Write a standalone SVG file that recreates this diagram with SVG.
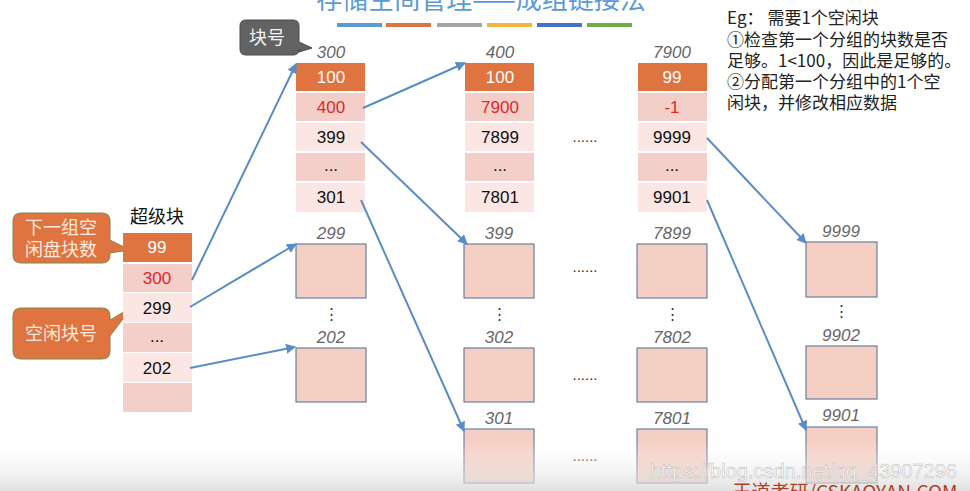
<svg xmlns="http://www.w3.org/2000/svg" width="970" height="491" viewBox="0 0 970 491">
<defs>
<style>
.t{font-family:"Liberation Sans","Noto Sans CJK SC",sans-serif;}
.cj{font-family:"Noto Sans CJK SC","Liberation Sans",sans-serif;}
.hd{fill:#e07440;}
.dk{fill:#f4cfca;}
.lt{fill:#fbe6e4;}
.bx{fill:#f6cfc4;stroke:#6b7f9e;stroke-width:1.2;}
.n{font-size:17px;text-anchor:middle;fill:#111;}
.w{fill:#fff;}
.r{fill:#e02828;}
.lb{font-size:17px;font-style:italic;text-anchor:middle;fill:#666;}
.dots{font-size:15px;text-anchor:middle;fill:#333;}
.c{stroke:#5a8dc8;stroke-width:2;fill:none;marker-end:url(#ah);}
</style>
<marker id="ah" viewBox="0 0 10 10" refX="9" refY="5" markerWidth="5" markerHeight="5" orient="auto">
<path d="M0,0 L10,5 L0,10 z" fill="#5a8dc8"/>
</marker>
<linearGradient id="bot" x1="0" y1="0" x2="0" y2="1">
<stop offset="0" stop-color="#fff" stop-opacity="0"/>
<stop offset="1" stop-color="#d8d8d8" stop-opacity="0.8"/>
</linearGradient>
</defs>
<rect width="970" height="491" fill="#fff"/>

<g id="title">
<text x="481" y="9" class="cj" font-size="26" fill="#5b9bd5" text-anchor="middle">存储空间管理——成组链接法</text>
<rect x="337" y="23" width="45" height="4" fill="#5b9bd5"/>
<rect x="386" y="23" width="45" height="4" fill="#e07440"/>
<rect x="437" y="23" width="45" height="4" fill="#a5a5a5"/>
<rect x="487" y="23" width="45" height="4" fill="#f2b544"/>
<rect x="537" y="23" width="45" height="4" fill="#4472c4"/>
<rect x="587" y="23" width="45" height="4" fill="#70ad47"/>
</g>

<g id="notes" class="cj" font-size="17" fill="#222">
<text x="727" y="24">Eg： 需要1个空闲块</text>
<text x="727" y="46">①检查第一个分组的块数是否</text>
<text x="727" y="67">足够。1&lt;100，因此是足够的。</text>
<text x="727" y="88">②分配第一个分组中的1个空</text>
<text x="727" y="109">闲块，并修改相应数据</text>
</g>

<g id="callout-blockno">
<path d="M246,20 H293 Q299,20 299,26 V42 L312,48 L299,52 V49 Q299,55 293,55 H246 Q240,55 240,49 V26 Q240,20 246,20 Z" fill="#626262" stroke="#4a4a4a" stroke-width="1"/>
<text x="267" y="44" class="cj" font-size="18" fill="#f2f2f2" text-anchor="middle">块号</text>
</g>

<g id="callout-count">
<path d="M21,213 H102 Q110,213 110,221 V240 L130,250 L110,253 V255 Q110,263 102,263 H21 Q13,263 13,255 V221 Q13,213 21,213 Z" fill="#e07440" stroke="#7a8a4a" stroke-width="1"/>
<text x="61" y="234" class="cj" font-size="18" fill="#fbe9df" text-anchor="middle">下一组空</text>
<text x="61" y="256" class="cj" font-size="18" fill="#fbe9df" text-anchor="middle">闲盘块数</text>
</g>

<g id="callout-freeno">
<path d="M21,308 H102 Q110,308 110,316 V320 L132,307 L110,336 V351 Q110,359 102,359 H21 Q13,359 13,351 V316 Q13,308 21,308 Z" fill="#e07440" stroke="#7a8a4a" stroke-width="1"/>
<text x="61" y="340" class="cj" font-size="18" fill="#fbe9df" text-anchor="middle">空闲块号</text>
</g>

<g id="superblock" class="t">
<text x="157" y="223" class="cj" font-size="18" fill="#111" text-anchor="middle">超级块</text>
<rect x="123" y="233" width="69" height="29" class="hd"/>
<rect x="123" y="264" width="69" height="28" class="dk"/>
<rect x="123" y="293" width="69" height="29" class="lt"/>
<rect x="123" y="323" width="69" height="29" class="dk"/>
<rect x="123" y="353" width="69" height="29" class="lt"/>
<rect x="123" y="383" width="69" height="29" class="dk"/>
<text x="157" y="253" class="n w">99</text>
<text x="157" y="284" class="n r">300</text>
<text x="157" y="314" class="n">299</text>
<text x="157" y="342" class="n">...</text>
<text x="157" y="374" class="n">202</text>
</g>

<g id="block300" class="t">
<text x="331" y="58" class="lb">300</text>
<rect x="296" y="63" width="69" height="28" class="hd"/>
<rect x="296" y="93" width="69" height="28" class="dk"/>
<rect x="296" y="123" width="69" height="28" class="lt"/>
<rect x="296" y="153" width="69" height="28" class="dk"/>
<rect x="296" y="183" width="69" height="29" class="lt"/>
<text x="331" y="83" class="n w">100</text>
<text x="331" y="113" class="n r">400</text>
<text x="331" y="143" class="n">399</text>
<text x="331" y="171" class="n">...</text>
<text x="331" y="203" class="n">301</text>
</g>

<g id="block400" class="t">
<text x="500" y="58" class="lb">400</text>
<rect x="465" y="63" width="69" height="28" class="hd"/>
<rect x="465" y="93" width="69" height="28" class="dk"/>
<rect x="465" y="123" width="69" height="28" class="lt"/>
<rect x="465" y="153" width="69" height="28" class="dk"/>
<rect x="465" y="183" width="69" height="29" class="lt"/>
<text x="500" y="83" class="n w">100</text>
<text x="500" y="113" class="n r">7900</text>
<text x="500" y="143" class="n">7899</text>
<text x="500" y="171" class="n">...</text>
<text x="500" y="203" class="n">7801</text>
</g>

<g id="block7900" class="t">
<text x="672" y="58" class="lb">7900</text>
<rect x="638" y="63" width="69" height="28" class="hd"/>
<rect x="638" y="93" width="69" height="28" class="dk"/>
<rect x="638" y="123" width="69" height="28" class="lt"/>
<rect x="638" y="153" width="69" height="28" class="dk"/>
<rect x="638" y="183" width="69" height="29" class="lt"/>
<text x="672" y="83" class="n w">99</text>
<text x="672" y="113" class="n r">-1</text>
<text x="672" y="143" class="n">9999</text>
<text x="672" y="171" class="n">...</text>
<text x="672" y="203" class="n">9901</text>
</g>

<g id="ellipses" class="t">
<text x="585" y="142" class="dots">......</text>
<text x="585" y="272" class="dots">......</text>
<text x="585" y="380" class="dots">......</text>
<text x="585" y="461" class="dots">......</text>
</g>

<g id="col1" class="t">
<text x="331" y="239" class="lb">299</text>
<rect x="296" y="244" width="70" height="54" class="bx"/>
<text x="331" y="319" class="dots">⋮</text>
<text x="331" y="343" class="lb">202</text>
<rect x="296" y="348" width="70" height="54" class="bx"/>
</g>

<g id="col2" class="t">
<text x="499" y="239" class="lb">399</text>
<rect x="464" y="244" width="70" height="54" class="bx"/>
<text x="499" y="319" class="dots">⋮</text>
<text x="499" y="343" class="lb">302</text>
<rect x="464" y="348" width="70" height="54" class="bx"/>
<text x="499" y="424" class="lb">301</text>
<rect x="464" y="429" width="70" height="54" class="bx"/>
</g>

<g id="col3" class="t">
<text x="672" y="239" class="lb">7899</text>
<rect x="637" y="244" width="70" height="54" class="bx"/>
<text x="672" y="319" class="dots">⋮</text>
<text x="672" y="343" class="lb">7802</text>
<rect x="637" y="348" width="70" height="54" class="bx"/>
<text x="672" y="424" class="lb">7801</text>
<rect x="637" y="429" width="70" height="54" class="bx"/>
</g>

<g id="col4" class="t">
<text x="841" y="237" class="lb">9999</text>
<rect x="806" y="242" width="71" height="55" class="bx"/>
<text x="841" y="316" class="dots">⋮</text>
<text x="841" y="341" class="lb">9902</text>
<rect x="806" y="346" width="71" height="53" class="bx"/>
<text x="841" y="421" class="lb">9901</text>
<rect x="806" y="427" width="71" height="56" class="bx"/>
</g>

<g id="connectors">
<line x1="192" y1="280" x2="296" y2="64" class="c"/>
<line x1="190" y1="307" x2="296" y2="244" class="c"/>
<line x1="190" y1="368" x2="295" y2="347" class="c"/>
<line x1="363" y1="108" x2="465" y2="63" class="c"/>
<line x1="361" y1="142" x2="467" y2="244" class="c"/>
<line x1="361" y1="200" x2="464" y2="431" class="c"/>
<line x1="707" y1="138" x2="806" y2="243" class="c"/>
<line x1="707" y1="200" x2="806" y2="430" class="c"/>
</g>

<g id="footer">
<rect x="0" y="440" width="970" height="51" fill="url(#bot)"/>
<text x="957" y="478" class="t" font-size="20" fill="#ffffff" fill-opacity="0.75" stroke="#bbbbbb" stroke-width="0.5" text-anchor="end">https://blog.csdn.net/qq_43907296</text>
<text x="845" y="499" class="cj" font-size="19" fill="#b04020" text-anchor="middle">王道考研/CSKAOYAN.COM</text>
</g>
</svg>
